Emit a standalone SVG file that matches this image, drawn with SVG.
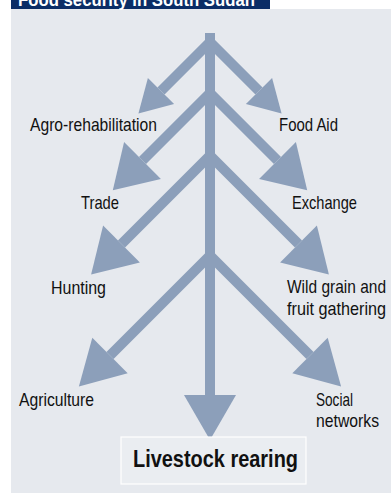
<svg xmlns="http://www.w3.org/2000/svg" width="391" height="493" viewBox="0 0 391 493">
<style>
.lbl{font-family:"Liberation Sans",Arial,sans-serif;font-size:19px;fill:#111;}
.br{stroke:#8c9fba;stroke-width:10;fill:none;stroke-linecap:butt;}
.hd{fill:#8c9fba;}
</style>
<rect x="0" y="0" width="391" height="493" fill="#ffffff"/>
<rect x="11" y="9" width="380" height="484" fill="#e6e9ee"/>
<g id="title">
<rect x="11" y="0" width="259" height="9" fill="#0b2d66"/>
<text x="18" y="6" font-family="Liberation Sans,Arial,sans-serif" font-size="18" font-weight="bold" fill="#ffffff" textLength="237" lengthAdjust="spacingAndGlyphs">Food security in South Sudan</text>
</g>
<g id="connectors">
<rect x="205" y="33" width="10" height="363" fill="#8c9fba"/>
<polygon class="hd" points="184,395 236,395 210,440"/>
<line class="br" x1="210" y1="42" x2="161" y2="91"/>
<polygon class="hd" points="138.4,113.6 147.9,77.9 174.1,104.1"/>
<line class="br" x1="210" y1="42" x2="259" y2="91"/>
<polygon class="hd" points="281.6,113.6 272.1,77.9 245.9,104.1"/>
<line class="br" x1="210" y1="93" x2="142.5" y2="160.5"/>
<polygon class="hd" points="112.8,190.2 124.1,142.1 160.9,178.9"/>
<line class="br" x1="210" y1="93" x2="277.5" y2="160.5"/>
<polygon class="hd" points="307.2,190.2 295.9,142.1 259.1,178.9"/>
<line class="br" x1="210" y1="155.5" x2="121.5" y2="244"/>
<polygon class="hd" points="91.1,274.4 103.1,225.6 139.9,262.4"/>
<line class="br" x1="210" y1="155.5" x2="298.5" y2="244"/>
<polygon class="hd" points="328.9,274.4 316.9,225.6 280.1,262.4"/>
<line class="br" x1="210" y1="255.5" x2="110" y2="355.5"/>
<polygon class="hd" points="78.9,386.6 92.3,337.8 127.7,373.2"/>
<line class="br" x1="210" y1="255.5" x2="310" y2="355.5"/>
<polygon class="hd" points="341.1,386.6 327.7,337.8 292.3,373.2"/>
</g>
<g id="agro"><text class="lbl" x="30" y="131" textLength="127" lengthAdjust="spacingAndGlyphs">Agro-rehabilitation</text></g>
<g id="foodaid"><text class="lbl" x="279" y="131" textLength="59" lengthAdjust="spacingAndGlyphs">Food Aid</text></g>
<g id="trade"><text class="lbl" x="81" y="209" textLength="38" lengthAdjust="spacingAndGlyphs">Trade</text></g>
<g id="exchange"><text class="lbl" x="292" y="209" textLength="65" lengthAdjust="spacingAndGlyphs">Exchange</text></g>
<g id="hunting"><text class="lbl" x="51" y="294" textLength="55" lengthAdjust="spacingAndGlyphs">Hunting</text></g>
<g id="wild"><text class="lbl" x="287" y="293" textLength="99" lengthAdjust="spacingAndGlyphs">Wild grain and</text><text class="lbl" x="287" y="315" textLength="99" lengthAdjust="spacingAndGlyphs">fruit gathering</text></g>
<g id="agriculture"><text class="lbl" x="19" y="406" textLength="75" lengthAdjust="spacingAndGlyphs">Agriculture</text></g>
<g id="social"><text class="lbl" x="316" y="406" textLength="37" lengthAdjust="spacingAndGlyphs">Social</text><text class="lbl" x="316" y="427" textLength="63" lengthAdjust="spacingAndGlyphs">networks</text></g>
<g id="livestock">
<rect x="121" y="437" width="185" height="47" fill="#eaedf1" stroke="#ffffff" stroke-width="1.2"/>
<text x="133" y="467" font-family="Liberation Sans,Arial,sans-serif" font-size="24" font-weight="bold" fill="#111" textLength="165" lengthAdjust="spacingAndGlyphs">Livestock rearing</text>
</g>
</svg>
